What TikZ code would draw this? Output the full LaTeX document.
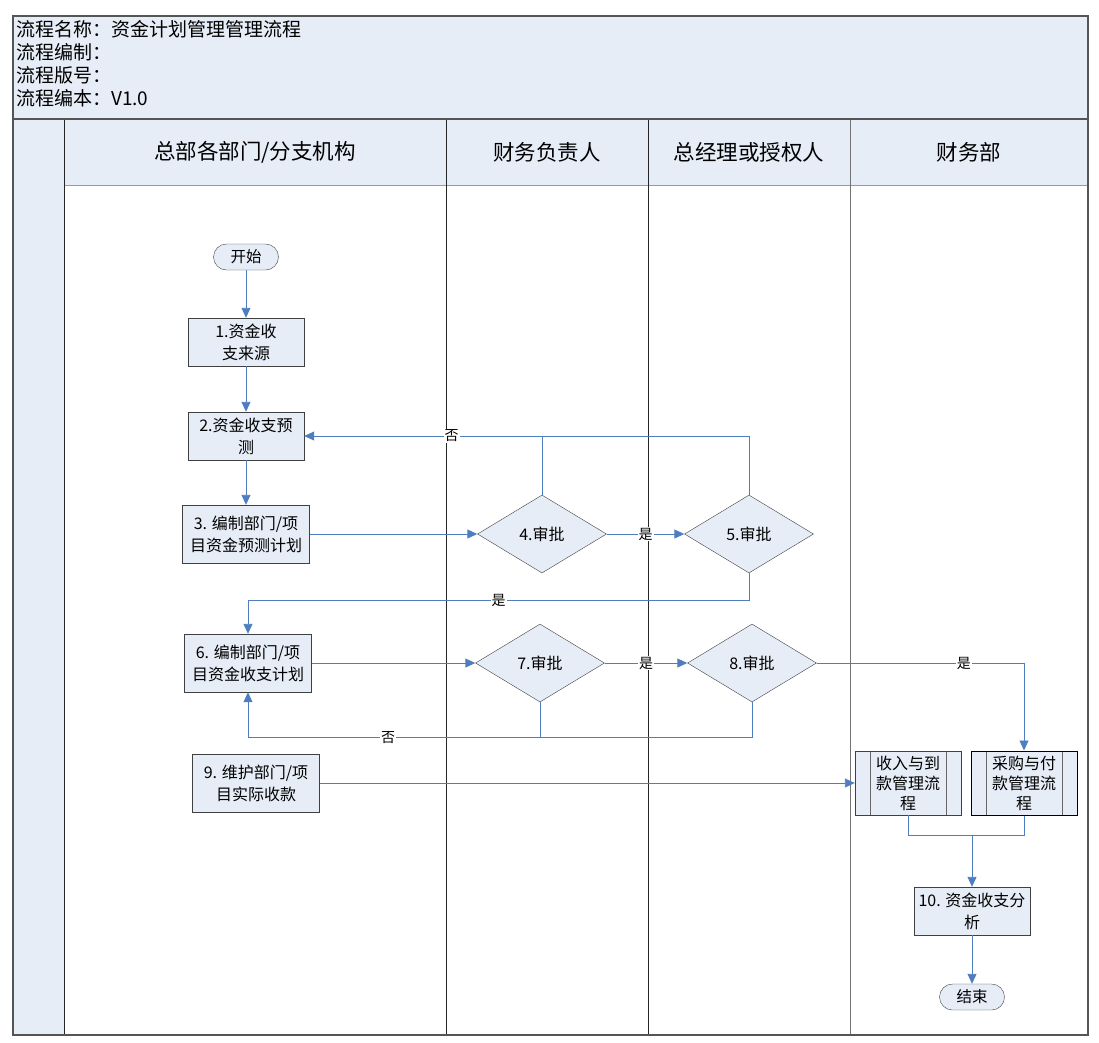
\documentclass[tikz,border=0pt]{standalone}
\usepackage{fontspec}
\setmainfont{Noto Sans CJK SC}
\definecolor{lane}{HTML}{E6EDF7}
\definecolor{flow}{HTML}{4F7EC0}
\definecolor{frame}{HTML}{555555}
\usetikzlibrary{arrows.meta,positioning,shapes.geometric}

\begin{document}
\begin{tikzpicture}[x=1pt,y=-1pt,
 box/.style={draw=black!75,fill=lane,minimum width=116pt,minimum height=48pt,align=center,inner sep=2pt,font=\fontsize{16}{22}\selectfont},
 wide/.style={box,minimum width=127pt,minimum height=58pt},
 term/.style={draw=black!75,fill=lane,rounded corners=13pt,minimum width=65pt,minimum height=26pt,inner sep=1pt,font=\fontsize{15.5}{16}\selectfont},
 check/.style={diamond,draw=black!75,fill=lane,aspect=1.65,minimum width=129pt,minimum height=78pt,inner sep=0pt,font=\fontsize{16}{17}\selectfont},
 subproc/.style={box,minimum width=106pt,minimum height=64pt,font=\fontsize{16}{20}\selectfont,
   path picture={\draw[black!60] ([xshift=15pt]path picture bounding box.north west) -- ([xshift=15pt]path picture bounding box.south west);
     \draw[black!60] ([xshift=-15pt]path picture bounding box.north east) -- ([xshift=-15pt]path picture bounding box.south east);}},
 lanehead/.style={font=\fontsize{21.5}{22}\selectfont},
 lbl/.style={fill=white,inner sep=1pt,font=\fontsize{14}{14}\selectfont},
 line/.style={draw=flow,line width=0.9pt},
 arr/.style={line,-{Triangle[length=10pt,width=9pt]}}]
\useasboundingbox (0,0) rectangle (1099,1042);

% frame and lanes
\fill[lane] (13,16) rectangle (1088,119);
\fill[lane] (13,119) rectangle (64,1035);
\fill[lane] (64,119) rectangle (1088,185);
\draw[black!40] (64,185) -- (1088,185);
\draw[black!85] (64,119) -- (64,1035);
\draw[black!85] (446,119) -- (446,1035);
\draw[black!85] (648,119) -- (648,1035);
\draw[black!55] (850,119) -- (850,1035);
\draw[frame,line width=1.6pt] (13,119) -- (1088,119);
\draw[frame,line width=1.2pt] (13,16) rectangle (1088,1035);

\node[anchor=north west,align=left,inner sep=0pt,font=\fontsize{19}{23}\selectfont] (title) at (16,20)
  {流程名称：资金计划管理管理流程\\流程编制：\\流程版号：\\流程编本：V1.0};

\node[lanehead] (dept) at (255,152) {总部各部门/分支机构};
\node[lanehead] (cfo) at (547,152) {财务负责人};
\node[lanehead] (gm) at (749,152) {总经理或授权人};
\node[lanehead] (fin) at (969,152) {财务部};

% steps
\node[term] (start) at (246,257) {开始};
\node[box] (b1) at (246,342) {1.资金收\\支来源};
\node[box] (b2) at (246,436) {2.资金收支预\\测};
\node[wide] (b3) at (246,534) {3. 编制部门/项\\目资金预测计划};
\node[check] (d4) at (542,534) {4.审批};
\node[check] (d5) at (749,534) {5.审批};
\node[wide] (b6) at (248,663) {6. 编制部门/项\\目资金收支计划};
\node[check] (d7) at (540,663) {7.审批};
\node[check] (d8) at (752,663) {8.审批};
\node[wide] (b9) at (256,783) {9. 维护部门/项\\目实际收款};
\node[subproc] (sub1) at (908,783) {收入与到\\款管理流\\程};
\node[subproc,draw=black,line width=1pt] (sub2) at (1024,783) {采购与付\\款管理流\\程};
\node[box] (b10) at (972,911) {10. 资金收支分\\析};
\node[term] (finish) at (972,997) {结束};
\coordinate (join) at (972,835);

% connectors
\foreach \a/\b in {start/b1,b1/b2,b2/b3,b3/d4,b6/d7,b9/sub1,b10/finish}
  \draw[arr] (\a) -- (\b);
\draw[arr] (d4) -- node[lbl]{是} (d5);
\draw[arr] (d7) -- node[lbl]{是} (d8);
\draw[arr] (d4.north) |- node[lbl,pos=0.69]{否} (b2.east);
\draw[line] (d5.north) |- (d4.north |- b2.east);
\draw[arr] (d5.south) -- ++(0,27) -| node[lbl,pos=0.25]{是} (b6.north);
\draw[arr] (d7.south) -- ++(0,35) -| node[lbl,pos=0.26]{否} (b6.south);
\draw[line] (d8.south) |- ([yshift=-35pt]d7.south);
\draw[arr] (d8.east) -| node[lbl,pos=0.355]{是} (sub2.north);
\draw[line] (sub1.south) |- (join);
\draw[line] (sub2.south) |- (join);
\draw[arr] (join) -- (b10.north);
\end{tikzpicture}
\end{document}
